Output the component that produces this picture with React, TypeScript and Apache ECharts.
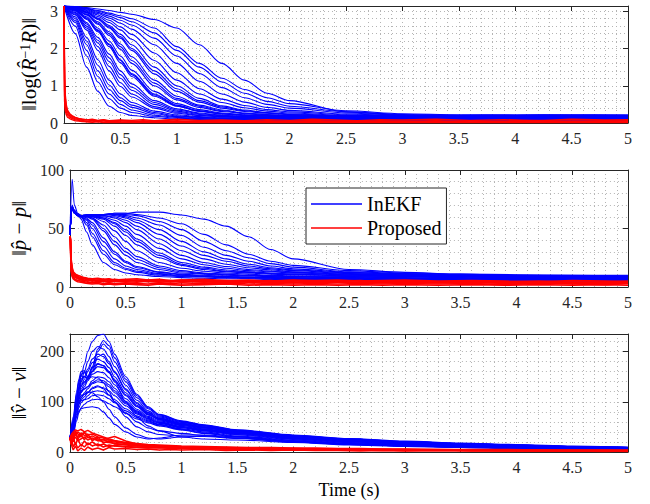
import React, { useEffect, useRef } from "react";
import * as echarts from "echarts";

const SERIF = "'Liberation Serif', 'Times New Roman', serif";

// ---------- Panel 1: ||log(R^-1 R)|| ----------
const T_ROT = [0, 0.1, 0.2, 0.3, 0.4, 0.5, 0.6, 0.8, 1.0, 1.2, 1.4, 1.6, 1.8, 2.0, 2.5, 3, 3.5, 4, 4.5, 5];
const rotB01 = [3.14, 2.4, 1.5, 0.85, 0.45, 0.28, 0.2, 0.14, 0.1, 0.09, 0.08, 0.08, 0.07, 0.07, 0.06, 0.07, 0.06, 0.07, 0.06, 0.07];
const rotB02 = [3.14, 2.6, 1.8, 1.1, 0.65, 0.4, 0.28, 0.18, 0.13, 0.11, 0.1, 0.09, 0.09, 0.08, 0.08, 0.09, 0.08, 0.09, 0.08, 0.09];
const rotB03 = [3.14, 2.75, 2.1, 1.4, 0.9, 0.6, 0.42, 0.25, 0.17, 0.14, 0.12, 0.11, 0.1, 0.1, 0.09, 0.1, 0.1, 0.11, 0.1, 0.11];
const rotB04 = [3.14, 2.85, 2.3, 1.7, 1.15, 0.78, 0.55, 0.32, 0.22, 0.17, 0.14, 0.13, 0.12, 0.12, 0.11, 0.12, 0.12, 0.13, 0.12, 0.13];
const rotB05 = [3.14, 2.9, 2.5, 1.95, 1.4, 0.98, 0.7, 0.4, 0.26, 0.2, 0.16, 0.14, 0.13, 0.12, 0.12, 0.13, 0.14, 0.13, 0.14, 0.13];
const rotB06 = [3.14, 2.95, 2.6, 2.15, 1.65, 1.2, 0.88, 0.5, 0.32, 0.23, 0.18, 0.16, 0.15, 0.14, 0.13, 0.14, 0.15, 0.16, 0.15, 0.16];
const rotB07 = [3.14, 3.0, 2.7, 2.3, 1.85, 1.4, 1.05, 0.6, 0.38, 0.27, 0.21, 0.18, 0.16, 0.15, 0.14, 0.15, 0.16, 0.17, 0.16, 0.17];
const rotB08 = [3.14, 3.02, 2.78, 2.45, 2.05, 1.62, 1.25, 0.72, 0.45, 0.31, 0.24, 0.2, 0.18, 0.17, 0.15, 0.16, 0.17, 0.18, 0.17, 0.18];
const rotB09 = [3.14, 3.05, 2.85, 2.55, 2.2, 1.8, 1.42, 0.85, 0.52, 0.36, 0.27, 0.22, 0.2, 0.18, 0.16, 0.17, 0.18, 0.19, 0.18, 0.19];
const rotB10 = [3.14, 3.06, 2.9, 2.65, 2.35, 1.98, 1.6, 1.0, 0.62, 0.42, 0.31, 0.25, 0.21, 0.19, 0.17, 0.16, 0.17, 0.18, 0.19, 0.18];
const rotB11 = [3.14, 3.08, 2.93, 2.72, 2.45, 2.12, 1.78, 1.15, 0.72, 0.48, 0.35, 0.27, 0.23, 0.2, 0.17, 0.17, 0.18, 0.19, 0.18, 0.19];
const rotB12 = [3.14, 3.09, 2.96, 2.78, 2.55, 2.28, 1.95, 1.32, 0.85, 0.56, 0.4, 0.31, 0.26, 0.22, 0.18, 0.18, 0.19, 0.2, 0.19, 0.2];
const rotB13 = [3.14, 3.1, 2.98, 2.82, 2.62, 2.38, 2.1, 1.5, 1.0, 0.66, 0.46, 0.35, 0.28, 0.24, 0.19, 0.18, 0.19, 0.2, 0.21, 0.2];
const rotB14 = [3.14, 3.1, 3.0, 2.86, 2.7, 2.5, 2.25, 1.68, 1.15, 0.78, 0.55, 0.41, 0.32, 0.27, 0.2, 0.19, 0.2, 0.21, 0.2, 0.21];
const rotB15 = [3.14, 3.11, 3.02, 2.9, 2.76, 2.58, 2.38, 1.88, 1.35, 0.92, 0.64, 0.47, 0.36, 0.3, 0.22, 0.19, 0.2, 0.21, 0.22, 0.21];
const rotB16 = [3.14, 3.11, 3.04, 2.94, 2.82, 2.68, 2.52, 2.1, 1.6, 1.12, 0.78, 0.56, 0.42, 0.34, 0.24, 0.2, 0.19, 0.2, 0.21, 0.2];
const rotB17 = [3.14, 3.12, 3.06, 2.97, 2.87, 2.76, 2.63, 2.28, 1.8, 1.33, 0.95, 0.68, 0.5, 0.4, 0.27, 0.21, 0.2, 0.21, 0.2, 0.21];
const rotB18 = [3.14, 3.12, 3.07, 3.0, 2.92, 2.83, 2.72, 2.42, 1.95, 1.5, 1.1, 0.8, 0.58, 0.45, 0.3, 0.23, 0.21, 0.2, 0.21, 0.2];
const rotB19 = [3.14, 3.13, 3.08, 3.02, 2.95, 2.88, 2.8, 2.55, 2.05, 1.6, 1.2, 0.9, 0.68, 0.52, 0.33, 0.25, 0.22, 0.21, 0.2, 0.21];
const rotB20 = [3.14, 3.13, 3.1, 3.06, 3.02, 2.97, 2.92, 2.78, 2.55, 2.1, 1.6, 1.15, 0.8, 0.6, 0.3, 0.21, 0.2, 0.21, 0.2, 0.21];
const rotB21 = [3.14, 2.8, 2.2, 1.55, 1.02, 0.68, 0.48, 0.28, 0.19, 0.15, 0.13, 0.12, 0.11, 0.11, 0.1, 0.11, 0.12, 0.11, 0.12, 0.11];
const rotB22 = [3.14, 2.92, 2.55, 2.05, 1.52, 1.08, 0.78, 0.44, 0.29, 0.21, 0.17, 0.15, 0.14, 0.13, 0.12, 0.13, 0.12, 0.14, 0.13, 0.14];
const rotB23 = [3.14, 3.04, 2.82, 2.5, 2.12, 1.7, 1.33, 0.78, 0.48, 0.33, 0.25, 0.21, 0.19, 0.17, 0.15, 0.14, 0.15, 0.16, 0.15, 0.16];
const rotB24 = [3.14, 3.07, 2.91, 2.68, 2.4, 2.05, 1.68, 1.07, 0.66, 0.45, 0.33, 0.26, 0.22, 0.2, 0.17, 0.16, 0.17, 0.18, 0.17, 0.18];
const rotB25 = [3.14, 2.7, 1.95, 1.25, 0.78, 0.5, 0.35, 0.21, 0.15, 0.12, 0.11, 0.1, 0.1, 0.09, 0.09, 0.1, 0.09, 0.1, 0.09, 0.1];
const rotB26 = [3.14, 2.97, 2.66, 2.22, 1.75, 1.3, 0.96, 0.55, 0.35, 0.25, 0.2, 0.17, 0.15, 0.14, 0.13, 0.14, 0.15, 0.14, 0.15, 0.14];
const rotB27 = [3.14, 3.03, 2.8, 2.48, 2.1, 1.68, 1.3, 0.75, 0.46, 0.32, 0.25, 0.21, 0.18, 0.17, 0.15, 0.15, 0.16, 0.17, 0.16, 0.17];
const rotB28 = [3.14, 3.09, 2.97, 2.8, 2.58, 2.32, 2.0, 1.4, 0.92, 0.6, 0.43, 0.33, 0.27, 0.23, 0.19, 0.18, 0.19, 0.2, 0.19, 0.2];
const ROT_BLUE = [rotB01, rotB02, rotB03, rotB04, rotB05, rotB06, rotB07, rotB08, rotB09, rotB10, rotB11, rotB12,
  rotB13, rotB14, rotB15, rotB16, rotB17, rotB18, rotB19, rotB20, rotB21, rotB22, rotB23, rotB24,
  rotB25, rotB26, rotB27, rotB28];

// Red (Proposed) time grid shared by all panels
const T_RED = [0, 0.005, 0.01, 0.02, 0.03, 0.05, 0.07, 0.1, 0.13, 0.16, 0.2, 0.25, 0.3, 0.35, 0.4, 0.5, 0.6, 0.7, 0.8, 0.9, 1.0,
  1.2, 1.4, 1.6, 1.8, 2.0, 2.2, 2.4, 2.6, 2.8, 3.0, 3.3, 3.6, 3.9, 4.2, 4.5, 4.8, 5.0];
const rotR1 = [3.14, 1.2, 0.7, 0.45, 0.35, 0.25, 0.2, 0.15, 0.12, 0.1, 0.09, 0.08, 0.06, 0.08, 0.05, 0.07, 0.04, 0.06, 0.05, 0.07, 0.04, 0.06, 0.05, 0.03, 0.06, 0.04, 0.07, 0.05, 0.03, 0.06, 0.04, 0.06, 0.03, 0.05, 0.07, 0.04, 0.06, 0.05];
const rotR2 = [3.14, 0.9, 0.55, 0.38, 0.28, 0.2, 0.15, 0.11, 0.09, 0.07, 0.05, 0.07, 0.04, 0.06, 0.03, 0.05, 0.06, 0.03, 0.05, 0.04, 0.06, 0.03, 0.05, 0.06, 0.03, 0.05, 0.04, 0.03, 0.06, 0.04, 0.05, 0.03, 0.06, 0.04, 0.03, 0.05, 0.04, 0.06];
const rotR3 = [3.14, 0.75, 0.45, 0.3, 0.22, 0.16, 0.12, 0.09, 0.07, 0.05, 0.04, 0.03, 0.05, 0.02, 0.04, 0.03, 0.02, 0.04, 0.03, 0.02, 0.03, 0.04, 0.02, 0.03, 0.04, 0.02, 0.03, 0.04, 0.02, 0.03, 0.02, 0.04, 0.02, 0.03, 0.02, 0.04, 0.02, 0.03];
const rotR4 = [3.14, 1.5, 0.8, 0.5, 0.32, 0.24, 0.18, 0.14, 0.11, 0.1, 0.08, 0.1, 0.07, 0.09, 0.06, 0.08, 0.07, 0.09, 0.06, 0.08, 0.1, 0.07, 0.08, 0.06, 0.09, 0.07, 0.1, 0.08, 0.06, 0.09, 0.08, 0.1, 0.07, 0.09, 0.06, 0.1, 0.08, 0.09];
const rotR5 = [3.14, 0.6, 0.35, 0.22, 0.16, 0.12, 0.09, 0.06, 0.05, 0.04, 0.03, 0.02, 0.03, 0.01, 0.02, 0.01, 0.02, 0.01, 0.02, 0.01, 0.02, 0.01, 0.02, 0.01, 0.01, 0.02, 0.01, 0.02, 0.01, 0.02, 0.01, 0.02, 0.01, 0.01, 0.02, 0.01, 0.02, 0.01];
const ROT_RED = [rotR1, rotR2, rotR3, rotR4, rotR5];

// ---------- Panel 2: ||p^ - p|| ----------
const T_POS = [0, 0.02, 0.04, 0.07, 0.1, 0.15, 0.2, 0.3, 0.4, 0.5, 0.6, 0.8, 1.0, 1.2, 1.4, 1.6, 1.8, 2.0, 2.5, 3, 3.5, 4, 4.5, 5];
const posB01 = [45, 68, 66, 62, 58, 47, 36, 21, 15, 12, 10.5, 9, 8, 7.5, 7, 7, 6.5, 6.5, 6, 5.5, 5.5, 5, 5, 5];
const posB02 = [45, 70, 65, 62, 60, 53, 43, 28, 19, 15, 12.5, 10, 9, 8.5, 8, 7.5, 7.5, 7, 6.5, 6, 6, 5.5, 5.5, 5.5];
const posB03 = [45, 66, 64, 61, 60, 57, 50, 35, 24, 18, 15, 11.5, 10, 9, 8.5, 8, 8, 7.5, 7, 6.5, 6.5, 6, 6, 6];
const posB04 = [45, 92, 70, 63, 61, 59, 55, 42, 30, 22, 17.5, 13, 11, 10, 9, 8.5, 8.5, 8, 7.5, 7, 6.5, 6.5, 6, 6];
const posB05 = [45, 68, 64, 62, 61, 60, 58, 48, 36, 27, 21, 15, 12, 11, 10, 9.5, 9, 8.5, 8, 7.5, 7, 7, 6.5, 6.5];
const posB06 = [45, 67, 65, 61, 60, 60, 59, 53, 43, 33, 26, 18, 14, 12, 11, 10, 9.5, 9, 8.5, 8, 7.5, 7, 7, 7];
const posB07 = [45, 69, 64, 62, 61, 61, 60, 56, 48, 39, 31, 21, 16, 13.5, 12, 11, 10, 9.5, 9, 8.5, 8, 7.5, 7.5, 7];
const posB08 = [45, 66, 65, 62, 61, 60, 60, 58, 52, 44, 36, 25, 18.5, 15, 13, 12, 11, 10.5, 9.5, 9, 8.5, 8, 7.5, 7.5];
const posB09 = [45, 68, 63, 61, 60, 60, 60, 59, 55, 49, 41, 29, 21, 17, 14.5, 13, 12, 11, 10, 9.5, 9, 8.5, 8, 8];
const posB10 = [45, 67, 64, 62, 61, 61, 61, 60, 57, 52, 45, 33, 24, 19, 16, 14, 13, 12, 10.5, 10, 9.5, 9, 8.5, 8.5];
const posB11 = [45, 69, 65, 62, 61, 61, 61, 61, 59, 55, 49, 37, 27, 21, 17.5, 15, 13.5, 12.5, 11, 10, 9.5, 9, 9, 8.5];
const posB12 = [45, 66, 64, 61, 60, 61, 61, 61, 60, 57, 52, 41, 31, 24, 19.5, 16.5, 14.5, 13, 11, 10, 9.5, 9, 9, 8.5];
const posB13 = [45, 68, 64, 62, 61, 61, 62, 62, 61, 59, 55, 45, 35, 27, 22, 18, 15.5, 14, 11.5, 10.5, 10, 9.5, 9, 9];
const posB14 = [45, 67, 63, 61, 61, 61, 61, 62, 62, 60, 57, 49, 39, 30, 24, 19.5, 16.5, 14.5, 12, 11, 10, 9.5, 9, 9];
const posB15 = [45, 66, 64, 62, 61, 61, 62, 62, 62, 61, 59, 53, 44, 34, 27, 22, 18, 15.5, 12.5, 11, 10, 9.5, 9.5, 9];
const posB16 = [45, 68, 63, 61, 61, 61, 62, 62, 62, 62, 61, 56, 49, 39, 31, 25, 20, 17, 13, 11.5, 10.5, 10, 9.5, 9.5];
const posB17 = [45, 67, 64, 62, 61, 62, 62, 62, 63, 63, 62, 59, 54, 45, 36, 28, 22, 18.5, 14, 12, 11, 10, 10, 9.5];
const posB18 = [45, 69, 64, 62, 61, 62, 62, 62, 63, 63, 64, 64, 61.5, 58, 52, 43, 32, 24, 15, 12.5, 11, 10.5, 10, 10];
const posB19 = [45, 67, 64, 61, 60, 55, 46, 31, 21, 16, 13.5, 11, 9.5, 9, 8.5, 8, 7.5, 7, 6.5, 6, 6, 5.5, 5.5, 5.5];
const posB20 = [45, 68, 65, 62, 61, 61, 59, 50, 39, 30, 23.5, 16.5, 13, 11.5, 10.5, 10, 9.5, 9, 8, 7.5, 7, 7, 6.5, 6.5];
const posB21 = [45, 66, 63, 61, 60, 58, 53, 39, 28, 21, 16.5, 12.5, 10.5, 9.5, 9, 8.5, 8, 7.5, 7, 6.5, 6, 6, 5.5, 5.5];
const posB22 = [45, 68, 64, 62, 61, 61, 61, 59, 54, 47, 39, 27, 19.5, 16, 13.5, 12.5, 11.5, 11, 9.5, 9, 8.5, 8, 8, 7.5];
const POS_BLUE = [posB01, posB02, posB03, posB04, posB05, posB06, posB07, posB08, posB09, posB10,
  posB11, posB12, posB13, posB14, posB15, posB16, posB17, posB18, posB19, posB20, posB21, posB22];

const posR1 = [43, 42, 22, 15, 12, 10, 9, 8, 7.5, 7, 6.5, 7, 6, 6.5, 5.5, 6, 5, 6, 5.5, 5, 6, 5, 5.5, 4.5, 5, 5.5, 4.5, 5, 5.5, 4.5, 5, 4, 5, 4.5, 5, 4, 4.5, 5];
const posR2 = [43, 40, 18, 12, 9, 8, 7, 6, 5.5, 5, 5.5, 4.5, 5, 4, 5, 4.5, 4, 5, 4, 4.5, 4, 4.5, 3.5, 4.5, 4, 3.5, 4.5, 4, 3.5, 4, 3.5, 4, 3.5, 4, 3, 4, 3.5, 4];
const posR3 = [43, 38, 16, 10, 8, 6.5, 5.5, 5, 4.5, 4, 3.5, 4, 3, 3.5, 3, 3.5, 3, 2.5, 3.5, 3, 2.5, 3, 3.5, 2.5, 3, 2.5, 3, 2.5, 3, 2.5, 3, 2.5, 3, 2, 3, 2.5, 2, 3];
const posR4 = [43, 41, 25, 17, 13, 11, 10, 9, 8, 7.5, 7, 7.5, 6.5, 7, 6, 6.5, 7, 6, 6.5, 5.5, 6, 6.5, 5.5, 6, 5, 6, 5.5, 6, 5, 5.5, 6, 5, 5.5, 5, 4.5, 5.5, 5, 4.5];
const posR5 = [43, 39, 14, 9, 7, 5.5, 4.5, 4, 3.5, 3, 2.5, 3, 2, 2.5, 2, 2.5, 2, 1.5, 2.5, 2, 1.5, 2, 2.5, 1.5, 2, 1.5, 2, 1.5, 2, 1.5, 2, 1.5, 2, 1.5, 2, 1.5, 2, 1.5];
const posR6 = [43, 40, 20, 13, 10, 9, 7.5, 6.5, 6, 6.5, 5, 6, 5.5, 4.5, 6, 5, 5.5, 4.5, 5, 5.5, 4.5, 5.5, 4.5, 5, 5.5, 4, 5, 4.5, 4, 5, 4.5, 4, 4.5, 3.5, 4.5, 4, 3.5, 4];
const posR7 = [43, 41, 23, 16, 11, 9.5, 8.5, 7, 7, 6, 6, 5.5, 6.5, 5.5, 6.5, 5.5, 6, 5.5, 6, 4.5, 5.5, 4, 5, 4, 4.5, 4.5, 3.5, 4.5, 4, 3.5, 4, 3.5, 4, 3, 3.5, 3, 3.5, 3];
const POS_RED = [posR1, posR2, posR3, posR4, posR5, posR6, posR7];

// ---------- Panel 3: ||v^ - v|| ----------
const T_VEL = [0, 0.03, 0.06, 0.08, 0.1, 0.13, 0.16, 0.2, 0.25, 0.3, 0.35, 0.4, 0.5, 0.6, 0.7, 0.8, 1.0, 1.2, 1.5, 2.0, 2.5, 3, 3.5, 4, 4.5, 5];
const velB01 = [25, 60, 110, 130, 150, 175, 200, 220, 232, 235, 220, 195, 150, 115, 90, 75, 62, 54, 44, 34, 27, 22, 18, 15, 12, 10];
const velB02 = [25, 70, 120, 145, 160, 162, 150, 165, 200, 215, 205, 180, 140, 108, 86, 72, 60, 53, 43, 33, 26, 21, 17, 14, 11, 9];
const velB03 = [25, 55, 100, 125, 140, 160, 180, 200, 210, 205, 190, 170, 133, 103, 82, 70, 59, 52, 42, 32, 26, 21, 17, 14, 11, 9];
const velB04 = [25, 65, 115, 140, 155, 158, 150, 160, 190, 195, 180, 160, 126, 98, 79, 68, 57, 50, 41, 31, 25, 20, 16, 13, 11, 9];
const velB05 = [25, 50, 95, 115, 130, 145, 160, 178, 185, 180, 168, 150, 118, 93, 76, 66, 56, 49, 40, 30, 24, 19, 16, 13, 10, 8];
const velB06 = [25, 60, 105, 125, 135, 140, 145, 160, 170, 168, 158, 142, 112, 90, 74, 64, 54, 48, 39, 29, 23, 19, 15, 12, 10, 8];
const velB07 = [25, 45, 85, 105, 118, 130, 142, 155, 160, 158, 148, 134, 106, 85, 71, 62, 53, 46, 38, 28, 22, 18, 15, 12, 10, 8];
const velB08 = [25, 55, 95, 112, 122, 126, 130, 142, 150, 148, 140, 127, 101, 82, 69, 60, 51, 45, 37, 27, 21, 17, 14, 11, 9, 7];
const velB09 = [25, 40, 75, 95, 108, 118, 126, 136, 140, 138, 130, 118, 96, 78, 66, 58, 49, 43, 35, 26, 20, 16, 13, 11, 9, 7];
const velB10 = [25, 50, 88, 104, 112, 115, 118, 126, 130, 128, 122, 112, 92, 76, 64, 57, 48, 42, 34, 25, 19, 15, 13, 10, 8, 7];
const velB11 = [25, 38, 70, 88, 98, 105, 112, 120, 122, 120, 113, 104, 86, 72, 62, 55, 46, 40, 32, 24, 18, 15, 12, 10, 8, 6];
const velB12 = [25, 45, 80, 95, 102, 104, 106, 112, 114, 112, 106, 98, 82, 69, 60, 54, 45, 38, 31, 23, 17, 14, 11, 9, 7, 6];
const velB13 = [25, 35, 62, 78, 88, 95, 100, 104, 105, 102, 96, 90, 77, 66, 58, 52, 44, 37, 30, 22, 16, 13, 11, 9, 7, 6];
const velB14 = [25, 40, 70, 82, 86, 88, 89, 90, 88, 80, 68, 55, 40, 30, 26, 28, 34, 34, 30, 21, 16, 12, 10, 8, 6, 5];
const velB15 = [25, 45, 85, 100, 108, 115, 120, 118, 110, 100, 85, 70, 48, 35, 28, 26, 30, 32, 28, 20, 15, 12, 10, 8, 6, 5];
const velB16 = [25, 50, 90, 110, 125, 135, 145, 150, 148, 138, 120, 100, 70, 50, 40, 35, 32, 31, 27, 20, 15, 12, 9, 7, 6, 5];
const velB17 = [25, 60, 100, 125, 145, 150, 148, 160, 175, 172, 160, 140, 100, 70, 52, 42, 30, 26, 24, 19, 14, 11, 9, 7, 5, 4];
const velB18 = [25, 42, 80, 96, 104, 110, 118, 128, 132, 126, 114, 100, 78, 60, 48, 42, 37, 33, 28, 21, 16, 12, 10, 8, 6, 5];
const velB19 = [25, 58, 105, 128, 140, 150, 165, 185, 195, 190, 176, 158, 124, 96, 78, 67, 57, 50, 41, 31, 25, 20, 16, 13, 10, 8];
const velB20 = [25, 48, 90, 110, 120, 125, 130, 138, 144, 142, 134, 122, 98, 80, 67, 59, 50, 44, 36, 27, 21, 17, 14, 11, 9, 7];
const velB21 = [25, 62, 112, 138, 152, 150, 146, 170, 205, 222, 212, 188, 145, 112, 88, 74, 61, 53, 43, 33, 26, 21, 17, 14, 11, 9];
const velB22 = [25, 52, 98, 120, 132, 138, 150, 168, 176, 172, 160, 144, 114, 91, 75, 65, 55, 48, 39, 29, 23, 18, 15, 12, 10, 8];
const VEL_BLUE = [velB01, velB02, velB03, velB04, velB05, velB06, velB07, velB08, velB09, velB10,
  velB11, velB12, velB13, velB14, velB15, velB16, velB17, velB18, velB19, velB20, velB21, velB22];

const velR1 = [27, 28, 30, 36, 40, 44, 42, 45, 40, 43, 38, 34, 30, 26, 23, 19, 17, 15, 14, 13, 12, 11, 10, 9, 9, 8, 8, 7, 7, 6, 6, 5, 5, 5, 4, 4, 4, 4];
const velR2 = [27, 25, 20, 28, 24, 30, 22, 26, 30, 24, 28, 22, 25, 28, 31, 22, 16, 13, 12, 11, 10, 9, 8, 8, 7, 7, 6, 6, 5, 5, 5, 4, 4, 4, 3, 3, 3, 3];
const velR3 = [27, 22, 15, 20, 10, 18, 8, 15, 10, 18, 12, 16, 10, 14, 12, 10, 9, 8, 9, 7, 8, 7, 6, 7, 5, 6, 5, 5, 4, 5, 4, 4, 3, 4, 3, 3, 3, 2];
const velR4 = [27, 24, 18, 10, 4, 12, 2, 8, 3, 10, 5, 8, 4, 9, 6, 7, 5, 6, 4, 5, 4, 5, 3, 4, 3, 4, 3, 3, 2, 3, 2, 3, 2, 2, 2, 2, 1, 2];
const velR5 = [27, 30, 34, 30, 38, 33, 40, 35, 38, 34, 36, 30, 28, 24, 22, 18, 15, 14, 12, 11, 10, 9, 9, 8, 7, 7, 6, 6, 6, 5, 5, 5, 4, 4, 4, 3, 3, 3];
const velR6 = [27, 26, 22, 32, 28, 36, 30, 38, 33, 30, 26, 24, 20, 19, 17, 15, 13, 12, 11, 10, 9, 8, 7, 7, 6, 6, 5, 5, 5, 4, 4, 4, 3, 3, 3, 3, 2, 2];
const velR7 = [27, 29, 26, 34, 20, 40, 26, 34, 24, 36, 22, 30, 18, 22, 16, 14, 12, 11, 10, 9, 9, 8, 7, 6, 6, 5, 5, 4, 4, 4, 3, 3, 3, 3, 2, 2, 2, 2];
const velR8 = [27, 23, 28, 16, 30, 14, 26, 12, 22, 14, 20, 12, 16, 11, 13, 11, 10, 9, 8, 8, 7, 6, 6, 5, 5, 5, 4, 4, 4, 3, 3, 3, 3, 2, 2, 2, 2, 1];
const velR9 = [27, 26, 32, 38, 30, 42, 36, 30, 40, 28, 32, 26, 24, 21, 20, 17, 14, 13, 12, 11, 10, 9, 8, 7, 7, 6, 6, 5, 5, 5, 4, 4, 4, 3, 3, 3, 3, 2];
const VEL_RED = [velR1, velR2, velR3, velR4, velR5, velR6, velR7, velR8, velR9];

const X_TICK_INTERVAL = 0.5;
const Y_RANGES = [
  { min: 0, max: Math.PI, interval: 1 },
  { min: 0, max: 100, interval: 50 },
  { min: 0, max: 235, interval: 100 },
];

const BLUE = "#0000ff";
const RED = "#ff0000";
const AXIS = "#262626";
const GRIDLINE = { color: "#b4b4b4", type: [1, 3] as any, width: 1 };

const RICH: any = {
  n: { fontFamily: SERIF, fontSize: 21, color: "#000" },
  i: { fontFamily: SERIF, fontSize: 21, fontStyle: "italic", color: "#000" },
  s: { fontFamily: SERIF, fontSize: 14, color: "#000", verticalAlign: "top" },
};
const Y_NAMES = [
  "{n|\u2016log(}{i|R\u0302}{s|\u22121}{i|R}{n|)\u2016}",
  "{n|\u2016}{i|p\u0302}{n| \u2212 }{i|p}{n|\u2016}",
  "{n|\u2016}{i|v\u0302}{n| \u2212 }{i|v}{n|\u2016}",
];
const Y_NAME_GAPS = [12, 28, 34];

export default function App() {
  const ref = useRef<HTMLDivElement>(null);

  useEffect(() => {
    if (!ref.current) return;
    const chart = echarts.init(ref.current, null, { renderer: "svg" });

    const grids = [
      { left: 64, top: 6, width: 564, height: 117 },
      { left: 64, top: 170, width: 564, height: 117 },
      { left: 64, top: 334, width: 564, height: 118 },
    ];

    const xAxes: any[] = [];
    const yAxes: any[] = [];
    for (let g = 0; g < 3; g++) {
      const common = {
        type: "value",
        gridIndex: g,
        min: 0,
        max: 5,
        interval: X_TICK_INTERVAL,
        axisLine: { show: true, onZero: false, lineStyle: { color: AXIS, width: 1 } },
        axisTick: { show: true, inside: true, length: 5, lineStyle: { color: AXIS } },
        minorTick: { show: false, splitNumber: 5 },
      };
      xAxes.push({
        ...common,
        position: "bottom",
        axisLabel: { show: true, color: AXIS, fontFamily: SERIF, fontSize: 16, margin: 7 },
        splitLine: { show: true, lineStyle: GRIDLINE },
        minorSplitLine: { show: true, lineStyle: GRIDLINE },
        name: g === 2 ? "Time (s)" : "",
        nameLocation: "middle",
        nameGap: 29,
        nameTextStyle: { fontFamily: SERIF, fontSize: 18, color: "#000" },
      });
      xAxes.push({
        ...common,
        position: "top",
        axisLabel: { show: false },
        splitLine: { show: false },
        minorSplitLine: { show: false },
      });
      const yr = Y_RANGES[g];
      const ycommon = {
        type: "value",
        gridIndex: g,
        min: yr.min,
        max: yr.max,
        interval: yr.interval,
        axisLine: { show: true, onZero: false, lineStyle: { color: AXIS, width: 1 } },
        axisTick: { show: true, inside: true, length: 5, lineStyle: { color: AXIS } },
        minorTick: { show: false, splitNumber: 5 },
      };
      yAxes.push({
        ...ycommon,
        position: "left",
        axisLabel: {
          show: true, color: AXIS, fontFamily: SERIF, fontSize: 16, margin: 6,
          showMaxLabel: g === 1,
        },
        splitLine: { show: true, lineStyle: GRIDLINE },
        minorSplitLine: { show: true, lineStyle: GRIDLINE },
        name: Y_NAMES[g],
        nameLocation: "middle",
        nameRotate: 90,
        nameGap: Y_NAME_GAPS[g],
        nameTextStyle: { rich: RICH, fontFamily: SERIF, fontSize: 21 },
      });
      yAxes.push({
        ...ycommon,
        position: "right",
        axisLabel: { show: false },
        splitLine: { show: false },
        minorSplitLine: { show: false },
      });
    }

    const series: any[] = [];
    const addSet = (times: number[], curves: number[][], g: number, name: string, color: string, smooth: number, width: number) => {
      curves.forEach((vals) => {
        series.push({
          type: "line",
          name,
          xAxisIndex: 2 * g,
          yAxisIndex: 2 * g,
          data: times.map((t, i) => [t, vals[i]]),
          showSymbol: false,
          symbol: "none",
          smooth,
          smoothMonotone: "x",
          lineStyle: { color, width },
          itemStyle: { color },
          silent: true,
          clip: true,
        });
      });
    };
    addSet(T_ROT, ROT_BLUE, 0, "InEKF", BLUE, 0.3, 1.1);
    addSet(T_POS, POS_BLUE, 1, "InEKF", BLUE, 0.3, 1.1);
    addSet(T_VEL, VEL_BLUE, 2, "InEKF", BLUE, 0.3, 1.1);
    addSet(T_RED, ROT_RED, 0, "Proposed", RED, 0, 1.4);
    addSet(T_RED, POS_RED, 1, "Proposed", RED, 0, 1.6);
    addSet(T_RED, VEL_RED, 2, "Proposed", RED, 0, 1.5);

    chart.setOption({
      animation: false,
      backgroundColor: "#fff",
      grid: grids,
      xAxis: xAxes,
      yAxis: yAxes,
      legend: {
        show: true,
        left: 306,
        top: 188,
        orient: "vertical",
        data: [
          { name: "InEKF", icon: "rect" },
          { name: "Proposed", icon: "rect" },
        ],
        itemWidth: 51,
        itemHeight: 1.5,
        itemGap: 4,
        padding: [6, 5, 6, 5],
        borderColor: AXIS,
        borderWidth: 1,
        backgroundColor: "#fff",
        borderRadius: 0,
        selectedMode: false,
        textStyle: { fontFamily: SERIF, fontSize: 20, color: "#000" },
        z: 10,
      },
      series,
    });

    return () => chart.dispose();
  }, []);

  return <div ref={ref} style={{ position: "fixed", left: 0, top: 0, width: 650, height: 504 }} />;
}
